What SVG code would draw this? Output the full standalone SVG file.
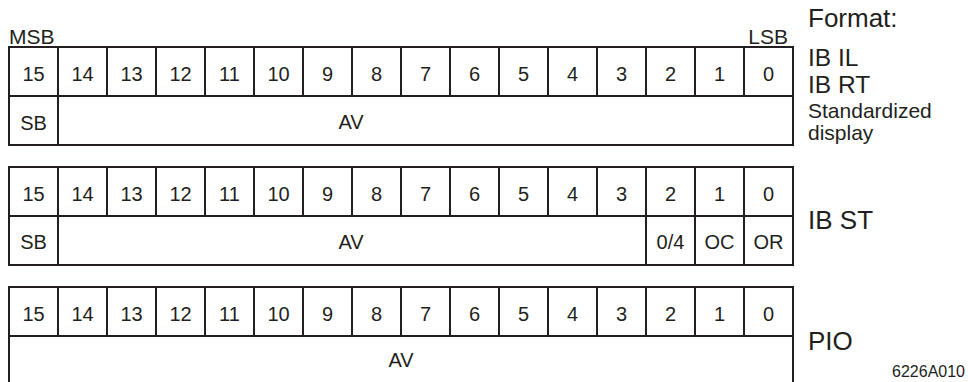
<svg xmlns="http://www.w3.org/2000/svg" width="968" height="382" viewBox="0 0 968 382">
<style>
.c{fill:#fff;stroke:#231f20;stroke-width:2}
.l{stroke:#231f20;stroke-width:2;fill:none}
text{font-family:"Liberation Sans",Arial,sans-serif;fill:#231f20}
.n{font-size:20px;text-anchor:middle}
.b{font-size:26px}
.t{font-size:24.5px}
.s{font-size:21px}
.m{font-size:21px}
</style>
<defs>
<g id="bits">
<rect class="c" x="9" y="0" width="784" height="49"/>
<path class="l" d="M58 0V49M107 0V49M156 0V49M205 0V49M254 0V49M303 0V49M352 0V49M401 0V49M450 0V49M499 0V49M548 0V49M597 0V49M646 0V49M695 0V49M744 0V49"/>
<g class="n">
<text x="33.5" y="34">15</text><text x="82.5" y="34">14</text><text x="131.5" y="34">13</text><text x="180.5" y="34">12</text>
<text x="229.5" y="34">11</text><text x="278.5" y="34">10</text><text x="327.5" y="34">9</text><text x="376.5" y="34">8</text>
<text x="425.5" y="34">7</text><text x="474.5" y="34">6</text><text x="523.5" y="34">5</text><text x="572.5" y="34">4</text>
<text x="621.5" y="34">3</text><text x="670.5" y="34">2</text><text x="719.5" y="34">1</text><text x="768.5" y="34">0</text>
</g>
</g>
</defs>

<g id="labels">
<text class="m" x="9" y="44">MSB</text>
<text class="m" x="788" y="44" text-anchor="end">LSB</text>
<text class="b" x="808" y="27">Format:</text>
<text class="t" x="808" y="66">IB IL</text>
<text class="t" x="808" y="93">IB RT</text>
<text class="s" x="808" y="118">Standardized</text>
<text class="s" x="808" y="140">display</text>
<text class="b" x="808" y="229">IB ST</text>
<text class="b" x="808" y="350">PIO</text>
<text x="965" y="377" font-size="16" text-anchor="end">6226A010</text>
</g>

<g id="reg-ib-il-rt">
<use href="#bits" y="47"/>
<rect class="c" x="9" y="96" width="784" height="49"/>
<path class="l" d="M58 96V145"/>
<text class="n" x="33.5" y="130">SB</text>
<text class="n" x="351" y="129">AV</text>
</g>

<g id="reg-ib-st">
<use href="#bits" y="167"/>
<rect class="c" x="9" y="216" width="784" height="49"/>
<path class="l" d="M58 216V265M646 216V265M695 216V265M744 216V265"/>
<text class="n" x="33.5" y="249">SB</text>
<text class="n" x="351" y="249">AV</text>
<text class="n" x="670.5" y="249">0/4</text>
<text class="n" x="719.5" y="249">OC</text>
<text class="n" x="768.5" y="249">OR</text>
</g>

<g id="reg-pio">
<rect class="c" x="9" y="336" width="784" height="60"/>
<use href="#bits" y="287"/>
<text class="n" x="401" y="367">AV</text>
</g>
</svg>
